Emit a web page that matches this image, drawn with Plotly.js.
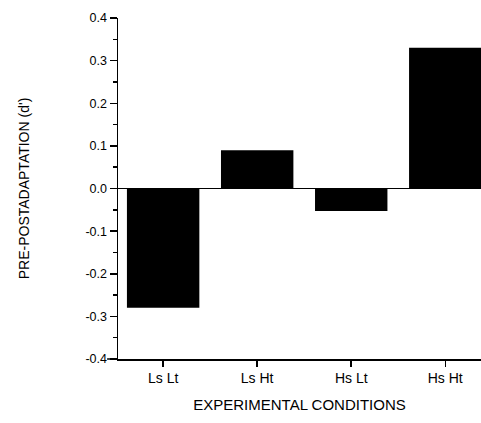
<!DOCTYPE html>
<html><head><meta charset="utf-8">
<script src="https://cdn.plot.ly/plotly-3.0.1.min.js"></script>
<style>body{margin:0;background:#fff}#chart{width:481px;height:423px}</style>
</head><body><div id="chart"></div>
<script>
const categories = ["Ls Lt", "Ls Ht", "Hs Lt", "Hs Ht"];
const values = [-0.28, 0.09, -0.053, 0.33];
const yTickVals = [-0.4, -0.3, -0.2, -0.1, 0.0, 0.1, 0.2, 0.3, 0.4];
const yTickText = ["-0.4", "-0.3", "-0.2", "-0.1", "0.0", "0.1", "0.2", "0.3", "0.4"];

const font = {family: "Liberation Sans, Arial, sans-serif", color: "#000"};
const trace = {
  type: "bar", x: [0,1,2,3], y: values, width: 0.77,
  marker: {color: "#000", line: {width: 0}}, hoverinfo: "none"
};
const layout = {
  width: 481, height: 423,
  margin: {l: 118, r: 0, t: 18, b: 64},
  paper_bgcolor: "#fff", plot_bgcolor: "#fff",
  showlegend: false, font: font,
  xaxis: {
    range: [-0.48, 3.38], tickvals: [0,1,2,3], ticktext: categories,
    showgrid: false, zeroline: false, showline: true, linecolor: "#000", linewidth: 1.5,
    ticks: "outside", ticklen: 6, tickcolor: "#000", tickwidth: 1.5,
    tickfont: {size: 14, family: font.family}, fixedrange: true,
    title: {text: "EXPERIMENTAL CONDITIONS", font: {size: 15, family: font.family}, standoff: 14}
  },
  yaxis: {
    range: [-0.4, 0.4], tickvals: yTickVals, ticktext: yTickText,
    showgrid: false, zeroline: true, zerolinecolor: "#000", zerolinewidth: 1.5,
    showline: true, linecolor: "#000", linewidth: 1.5,
    ticks: "outside", ticklen: 7, tickcolor: "#000", tickwidth: 1.5,
    minor: {dtick: 0.05, ticks: "outside", ticklen: 4, tickcolor: "#000", tickwidth: 1.5},
    tickfont: {size: 12.5, family: font.family}, fixedrange: true,
    title: {text: "PRE-POSTADAPTATION (d')", font: {size: 14, family: font.family}, standoff: 52}
  },
  shapes: [{type: "line", xref: "paper", yref: "paper", x0: -0.03, x1: 0, y0: 0, y1: 0,
            line: {color: "#000", width: 1.5}}]
};
Plotly.newPlot("chart", [trace], layout, {displayModeBar: false, staticPlot: true});
</script></body></html>
